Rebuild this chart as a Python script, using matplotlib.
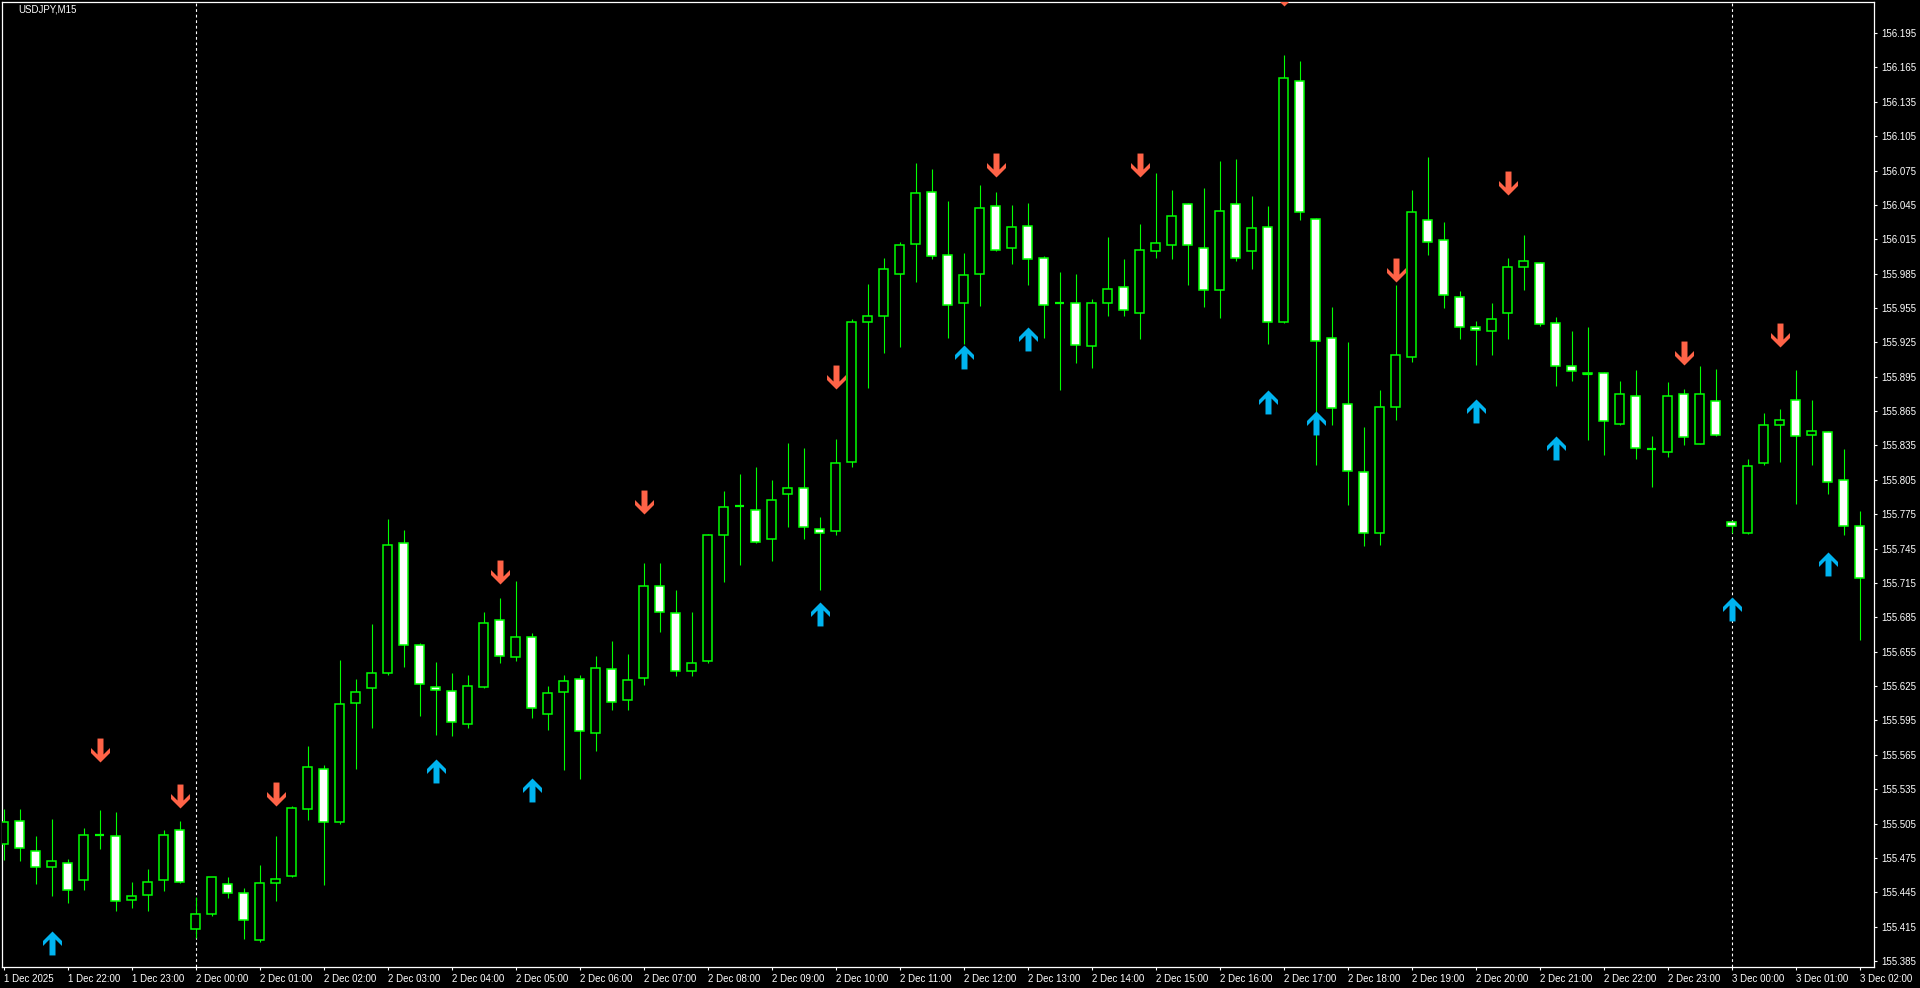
import matplotlib
matplotlib.use("Agg")
import matplotlib.pyplot as plt
from matplotlib.path import Path

# ---------------- data (USDJPY, M15) ----------------
opens = [155.487, 155.507, 155.481, 155.467, 155.471, 155.456, 155.495, 155.494, 155.438, 155.443,
         155.456, 155.499, 155.413, 155.426, 155.452, 155.444, 155.403, 155.453, 155.459, 155.518,
         155.553, 155.506, 155.610, 155.623, 155.636, 155.750, 155.661, 155.624, 155.621, 155.592,
         155.624, 155.683, 155.650, 155.668, 155.601, 155.620, 155.631, 155.584, 155.640, 155.613,
         155.632, 155.712, 155.689, 155.638, 155.647, 155.757, 155.782, 155.779, 155.753, 155.793,
         155.798, 155.762, 155.760, 155.821, 155.943, 155.948, 155.985, 156.011, 156.056, 156.001,
         155.959, 155.985, 156.044, 156.007, 156.027, 155.999, 155.959, 155.959, 155.922, 155.959,
         155.973, 155.951, 156.005, 156.010, 156.046, 156.007, 155.971, 156.046, 156.005, 156.026,
         155.943, 156.153, 156.033, 155.929, 155.871, 155.812, 155.759, 155.869, 155.912, 156.032,
         156.014, 155.965, 155.938, 155.935, 155.951, 155.991, 155.994, 155.942, 155.904, 155.898,
         155.898, 155.854, 155.878, 155.832, 155.829, 155.880, 155.836, 155.874, 155.768, 155.759,
         155.820, 155.853, 155.875, 155.844, 155.847, 155.805, 155.765]
highs = [155.518, 155.518, 155.494, 155.509, 155.474, 155.501, 155.517, 155.515, 155.454, 155.465,
         155.499, 155.507, 155.441, 155.458, 155.458, 155.449, 155.469, 155.494, 155.520, 155.573,
         155.556, 155.648, 155.631, 155.679, 155.771, 155.761, 155.663, 155.646, 155.636, 155.635,
         155.690, 155.702, 155.717, 155.671, 155.625, 155.635, 155.635, 155.651, 155.664, 155.653,
         155.732, 155.732, 155.709, 155.690, 155.758, 155.795, 155.810, 155.816, 155.805, 155.837,
         155.833, 155.773, 155.841, 155.945, 155.976, 155.999, 156.013, 156.082, 156.076, 156.048,
         156.003, 156.062, 156.056, 156.045, 156.047, 156.000, 155.986, 155.985, 155.963, 156.017,
         155.998, 156.028, 156.073, 156.058, 156.047, 156.060, 156.083, 156.085, 156.053, 156.044,
         156.176, 156.171, 156.034, 155.956, 155.925, 155.851, 155.883, 155.975, 156.058, 156.087,
         156.030, 155.970, 155.944, 155.959, 155.999, 156.019, 155.995, 155.947, 155.935, 155.938,
         155.899, 155.891, 155.901, 155.843, 155.890, 155.884, 155.904, 155.902, 155.768, 155.823,
         155.863, 155.867, 155.901, 155.875, 155.848, 155.832, 155.778]
lows = [155.473, 155.472, 155.452, 155.442, 155.436, 155.447, 155.483, 155.429, 155.431, 155.429,
        155.446, 155.453, 155.405, 155.424, 155.440, 155.404, 155.402, 155.437, 155.458, 155.508,
        155.451, 155.505, 155.553, 155.588, 155.635, 155.642, 155.599, 155.582, 155.581, 155.588,
        155.623, 155.645, 155.647, 155.597, 155.587, 155.552, 155.544, 155.568, 155.604, 155.604,
        155.626, 155.672, 155.634, 155.634, 155.645, 155.716, 155.731, 155.750, 155.734, 155.764,
        155.753, 155.709, 155.757, 155.816, 155.885, 155.916, 155.921, 155.978, 155.998, 155.929,
        155.924, 155.957, 156.005, 155.993, 155.975, 155.929, 155.883, 155.907, 155.903, 155.948,
        155.948, 155.928, 155.999, 155.998, 155.975, 155.956, 155.946, 155.996, 155.989, 155.924,
        155.942, 156.032, 155.818, 155.853, 155.783, 155.747, 155.748, 155.857, 155.908, 156.001,
        155.955, 155.928, 155.905, 155.914, 155.928, 155.971, 155.939, 155.887, 155.891, 155.840,
        155.827, 155.853, 155.823, 155.799, 155.825, 155.835, 155.836, 155.843, 155.759, 155.758,
        155.818, 155.821, 155.784, 155.818, 155.793, 155.757, 155.665]
closes = [155.506, 155.484, 155.467, 155.472, 155.447, 155.495, 155.495, 155.437, 155.442, 155.454,
          155.495, 155.454, 155.426, 155.458, 155.444, 155.421, 155.453, 155.457, 155.519, 155.554,
          155.506, 155.609, 155.620, 155.636, 155.748, 155.661, 155.627, 155.622, 155.594, 155.625,
          155.680, 155.651, 155.668, 155.606, 155.619, 155.629, 155.586, 155.641, 155.611, 155.630,
          155.712, 155.690, 155.638, 155.645, 155.757, 155.781, 155.782, 155.751, 155.787, 155.798,
          155.764, 155.759, 155.820, 155.943, 155.948, 155.989, 156.010, 156.055, 156.000, 155.958,
          155.984, 156.042, 156.006, 156.026, 155.998, 155.958, 155.959, 155.923, 155.959, 155.972,
          155.953, 156.006, 156.012, 156.035, 156.010, 155.971, 156.040, 155.999, 156.025, 155.943,
          156.156, 156.039, 155.926, 155.868, 155.813, 155.759, 155.869, 155.914, 156.039, 156.013,
          155.966, 155.938, 155.936, 155.945, 155.991, 155.996, 155.941, 155.904, 155.900, 155.897,
          155.856, 155.880, 155.833, 155.832, 155.878, 155.842, 155.880, 155.844, 155.765, 155.817,
          155.853, 155.857, 155.843, 155.848, 155.803, 155.765, 155.719]

time_labels = ["1 Dec 2025", "1 Dec 22:00", "1 Dec 23:00",
               "2 Dec 00:00", "2 Dec 01:00", "2 Dec 02:00", "2 Dec 03:00", "2 Dec 04:00",
               "2 Dec 05:00", "2 Dec 06:00", "2 Dec 07:00", "2 Dec 08:00", "2 Dec 09:00",
               "2 Dec 10:00", "2 Dec 11:00", "2 Dec 12:00", "2 Dec 13:00", "2 Dec 14:00",
               "2 Dec 15:00", "2 Dec 16:00", "2 Dec 17:00", "2 Dec 18:00", "2 Dec 19:00",
               "2 Dec 20:00", "2 Dec 21:00", "2 Dec 22:00", "2 Dec 23:00",
               "3 Dec 00:00", "3 Dec 01:00", "3 Dec 02:00"]
bars_per_label = 4          # M15 bars per hourly label
day_break_bars = [12, 108]  # 2 Dec 00:00, 3 Dec 00:00

price_tick_start = 155.385
price_tick_step = 0.030
price_tick_count = 28

sell_bars = [6, 11, 17, 31, 40, 52, 62, 71, 80, 87, 94, 105, 111]
sell_levels = [155.559, 155.519, 155.520, 155.714, 155.775, 155.884, 156.069, 156.069,
               156.219, 155.978, 156.054, 155.905, 155.921]
buy_bars = [3, 27, 33, 51, 60, 64, 79, 82, 92, 97, 108, 114]
buy_levels = [155.411, 155.561, 155.545, 155.698, 155.923, 155.938, 155.883, 155.865,
              155.876, 155.843, 155.703, 155.742]

symbol_title = "USDJPY,M15"

# ---------------- style ----------------
W, H, DPI = 1920, 988, 100
BG = "black"
FG = "white"
CANDLE = "#00ff00"
SELL_COL = "#ff6347"
BUY_COL = "#00b4f0"
FONT = ["Liberation Sans", "DejaVu Sans"]
plt.rcParams["font.family"] = FONT

fig = plt.figure(figsize=(W / DPI, H / DPI), dpi=DPI, facecolor=BG)
ax_left, ax_right, ax_top, ax_bottom = 2, 1874, 2, 967
ax = fig.add_axes([ax_left / W, (H - ax_bottom) / H,
                   (ax_right - ax_left) / W, (ax_bottom - ax_top) / H])
ax.set_facecolor(BG)

n = len(opens)
x = list(range(n))

# wicks
ax.vlines(x, lows, highs, color=CANDLE, linewidth=0.8, zorder=2)

# bodies
body_w = 0.56
bottoms = [min(o, c) for o, c in zip(opens, closes)]
heights = [abs(c - o) for o, c in zip(opens, closes)]
fills = [BG if c > o else FG for o, c in zip(opens, closes)]
ax.bar(x, heights, bottom=bottoms, width=body_w, color=fills, edgecolor=CANDLE,
       linewidth=1.1, zorder=3)
# doji lines
for i in range(n):
    if abs(closes[i] - opens[i]) < 0.0015:
        ax.hlines((opens[i] + closes[i]) / 2, i - body_w / 2, i + body_w / 2,
                  color=CANDLE, linewidth=1.6, zorder=4)

# day separators
for b in day_break_bars:
    ax.axvline(b, color=FG, linewidth=0.8, linestyle=(0, (2.5, 2.5)), zorder=1)

# arrow markers (tip at the data point)
up_verts = [(0, 0), (9.5, -9.5), (9.5, -14.5), (3, -8), (3, -24), (-3, -24),
            (-3, -8), (-9.5, -14.5), (-9.5, -9.5), (0, 0)]
up_codes = [Path.MOVETO] + [Path.LINETO] * (len(up_verts) - 2) + [Path.CLOSEPOLY]
up_path = Path(up_verts, up_codes)
down_path = Path([(vx, -vy) for vx, vy in up_verts], up_codes)
msize = 34.5
ax.plot(buy_bars, buy_levels, linestyle="none", marker=up_path, markersize=msize,
        color=BUY_COL, markeredgewidth=0, zorder=5)
ax.plot(sell_bars, sell_levels, linestyle="none", marker=down_path, markersize=msize,
        color=SELL_COL, markeredgewidth=0, zorder=5)

# limits
ax.set_xlim(-0.1, n - 0.1)
ax.set_ylim(155.3798, 156.2221)

# spines
for s in ax.spines.values():
    s.set_color(FG)
    s.set_linewidth(0.9)

# y axis on right
price_ticks = [round(price_tick_start + price_tick_step * k, 3) for k in range(price_tick_count)]
ax.yaxis.tick_right()
ax.set_yticks(price_ticks)
ax.set_yticklabels([f"{p:.3f}" for p in price_ticks])
ax.tick_params(axis="y", colors=FG, length=2.5, width=0.8, pad=2.5, labelsize=7,
               direction="out", left=False, right=True, labelleft=False, labelright=True)

# x axis
tick_pos = list(range(0, n, bars_per_label))
ax.set_xticks(tick_pos)
ax.set_xticklabels(time_labels[:len(tick_pos)], ha="left")
ax.tick_params(axis="x", colors=FG, length=2.5, width=0.8, pad=2.5, labelsize=7,
               direction="out")
for lbl in ax.get_xticklabels():
    lbl.set_horizontalalignment("left")

# title
fig.text(18 / W, 1 - 10 / H, symbol_title, color=FG, fontsize=7, ha="left", va="center")

fig.savefig("out.png", dpi=DPI, facecolor=BG)
